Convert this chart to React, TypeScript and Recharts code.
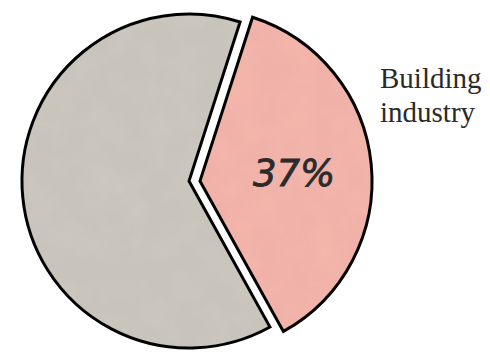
import { Cell, Pie, PieChart } from 'recharts'

const sectors = ['Building industry', 'Other']
const shares = [37, 63]
const fills = ['#f5b6ac', '#ccc8bf']

const data = sectors.map((name, i) => ({ name, value: shares[i] }))

const RADIAN = Math.PI / 180

// percentage written inside the pulled-out slice
function renderPercent(props: any) {
  const { cx, cy, midAngle, outerRadius, percent, index } = props
  if (index !== 0) return null
  const r = outerRadius * 0.55
  const x = cx + r * Math.cos(-midAngle * RADIAN)
  const y = cy + r * Math.sin(-midAngle * RADIAN)
  return (
    <text
      x={x}
      y={y + 14}
      textAnchor="middle"
      fill="#2b2b2b"
      stroke="#2b2b2b"
      strokeWidth={0.8}
      fontFamily="'DejaVu Sans', sans-serif"
      fontStyle="italic"
      fontSize={37}
    >
      {`${Math.round(percent * 100)}%`}
    </text>
  )
}

export default function App() {
  return (
    <div style={{ position: 'absolute', left: 0, top: 0, width: 490, height: 352, background: '#fff' }}>
      <PieChart width={490} height={352} margin={{ top: 0, right: 0, bottom: 0, left: 0 }}>
        <defs>
          <filter id="wash" x="-10%" y="-10%" width="120%" height="120%">
            <feTurbulence type="fractalNoise" baseFrequency="0.035" numOctaves={3} seed={4} result="noise" />
            <feColorMatrix
              in="noise"
              type="matrix"
              values="0 0 0 0 0  0 0 0 0 0  0 0 0 0 0  0 0 0 0.06 0"
              result="shade"
            />
            <feComposite in="shade" in2="SourceGraphic" operator="in" result="clipped" />
            <feMerge>
              <feMergeNode in="SourceGraphic" />
              <feMergeNode in="clipped" />
            </feMerge>
          </filter>
        </defs>
        {/* remaining share, drawn in place */}
        <Pie
          data={data}
          dataKey="value"
          cx={189}
          cy={181}
          outerRadius={167}
          startAngle={-61}
          endAngle={299}
          isAnimationActive={false}
          labelLine={false}
        >
          {data.map((d, i) => (
            <Cell
              key={d.name}
              fill={i === 0 ? 'none' : fills[i]}
              stroke={i === 0 ? 'none' : '#111'}
              strokeWidth={3}
              filter={i === 0 ? undefined : 'url(#wash)'}
            />
          ))}
        </Pie>
        {/* building industry slice, pulled out */}
        <Pie
          data={data}
          dataKey="value"
          cx={200}
          cy={181}
          outerRadius={172}
          startAngle={-61}
          endAngle={299}
          isAnimationActive={false}
          labelLine={false}
          label={renderPercent}
        >
          {data.map((d, i) => (
            <Cell
              key={d.name}
              fill={i === 0 ? fills[i] : 'none'}
              stroke={i === 0 ? '#111' : 'none'}
              strokeWidth={3}
              filter={i === 0 ? 'url(#wash)' : undefined}
            />
          ))}
        </Pie>
        <text fontFamily="'Liberation Serif', serif" fontSize={29} fill="#2a2a2a">
          <tspan x={380} y={88}>Building</tspan>
          <tspan x={380} y={122}>industry</tspan>
        </text>
      </PieChart>
    </div>
  )
}
